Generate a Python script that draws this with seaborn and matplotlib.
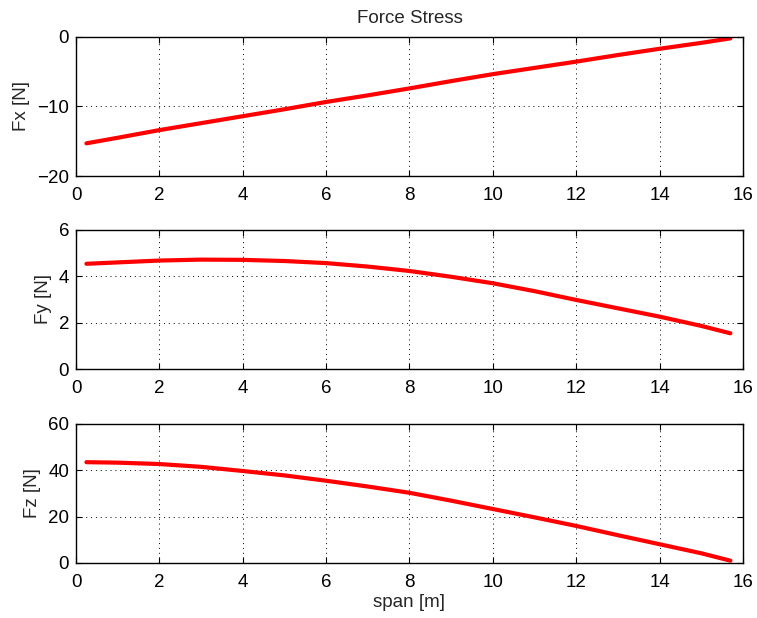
import matplotlib
matplotlib.use("Agg")
import matplotlib.pyplot as plt
import seaborn as sns
import pandas as pd

# span positions [m] and force values
span = [0.25, 1, 2, 3, 4, 5, 6, 7, 8, 9, 10, 11, 12, 13, 14, 15, 15.7]
fx = [-15.3, -14.5, -13.4, -12.4, -11.4, -10.4, -9.35, -8.4, -7.4, -6.35,
      -5.35, -4.45, -3.55, -2.6, -1.7, -0.85, -0.2]
fy = [4.54, 4.60, 4.68, 4.72, 4.71, 4.66, 4.57, 4.42, 4.23, 3.98,
      3.70, 3.36, 2.98, 2.62, 2.26, 1.86, 1.54]
fz = [43.5, 43.3, 42.7, 41.5, 39.7, 37.8, 35.5, 33.0, 30.3, 26.9,
      23.3, 19.7, 16.0, 12.0, 8.1, 4.2, 1.0]

ylabels = ["Fx [N]", "Fy [N]", "Fz [N]"]
ylims = [(-20, 0), (0, 6), (0, 60)]
yticks = [[-20, -10, 0], [0, 2, 4, 6], [0, 20, 40, 60]]
xticks = [0, 2, 4, 6, 8, 10, 12, 14, 16]

sns.set_theme(style="ticks")
plt.rcParams['font.family'] = ['Liberation Sans', 'DejaVu Sans']
plt.rcParams['axes.unicode_minus'] = True

df = pd.DataFrame({"span": span, "Fx": fx, "Fy": fy, "Fz": fz})

FS = 13.5

fig = plt.figure(figsize=(7.57, 6.18), dpi=100)
bottoms = [0.7152, 0.4029, 0.0890]
axes = [fig.add_axes([0.1004, b, 0.881, 0.225]) for b in bottoms]

for ax, col, lab, lim, yt in zip(axes, ["Fx", "Fy", "Fz"], ylabels, ylims, yticks):
    sns.lineplot(data=df, x="span", y=col, ax=ax, color="#ff0000", linewidth=3.0)
    ax.set_xlim(0, 16)
    ax.set_ylim(*lim)
    ax.set_xticks(xticks)
    ax.set_yticks(yt)
    ax.set_ylabel(lab, fontsize=FS, labelpad=5)
    ax.set_xlabel("")
    ax.grid(True, color="black", linestyle=(0, (1, 4)), linewidth=0.7)
    ax.tick_params(direction="in", top=True, right=True, length=4,
                   width=0.8, labelsize=FS, color="black", labelcolor="black")
    ax.tick_params(axis="x", pad=8)
    ax.tick_params(axis="y", pad=5)
    for s in ax.spines.values():
        s.set_linewidth(1.0)
        s.set_color("black")

axes[0].set_title("Force Stress", fontsize=FS, pad=10)
axes[2].set_xlabel("span [m]", fontsize=FS, labelpad=2)

fig.savefig("out.png", dpi=100)
